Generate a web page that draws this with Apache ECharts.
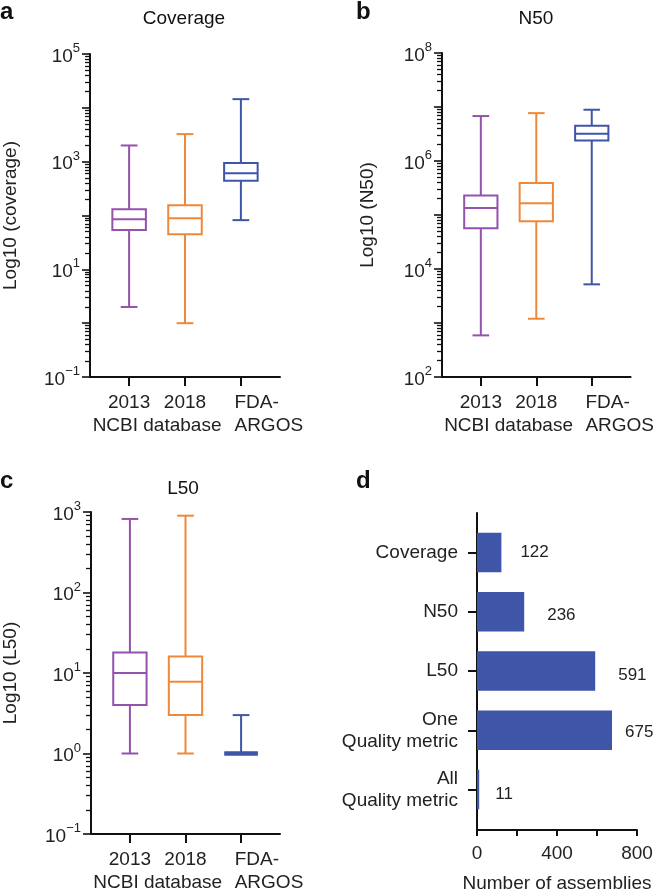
<!DOCTYPE html>
<html><head><meta charset="utf-8">
<script src="https://cdn.jsdelivr.net/npm/echarts@6/dist/echarts.min.js"></script>
<style>html,body{margin:0;padding:0;background:#fff}#c{width:657px;height:894px}</style>
</head><body><div id="c"></div>
<script>
const FONT = '"Liberation Sans", Arial, Helvetica, sans-serif';
const TXT = '#222';
const AX = '#111';

// categories
const groups = ['2013', '2018', 'FDA-\nARGOS'];
const groupSubLabel = 'NCBI database';
const boxColors = ['#9452ad', '#f0883a', '#3f55a8'];

// box stats: [min, Q1, median, Q3, max]
const coverage2013 = [2.0, 54, 85, 130, 2000];
const coverage2018 = [1.0, 45, 89, 155, 3250];
const coverageFDA  = [82, 440, 610, 940, 14500];

const n50_2013 = [590, 57000, 135000, 230000, 6800000];
const n50_2018 = [1200, 77000, 165000, 390000, 7700000];
const n50_FDA  = [5200, 2400000, 3200000, 4500000, 8900000];

const l50_2013 = [1, 4.0, 10, 18, 820];
const l50_2018 = [1, 3.0, 7.8, 16, 900];
const l50_FDA  = [1, 1, 1, 1, 3];

// tick values
const coverageDecades = [0.1, 1, 10, 100, 1000, 10000, 100000];
const coverageLabels  = [0.1, 10, 1000, 100000];
const n50Decades = [100, 1000, 10000, 100000, 1000000, 10000000, 100000000];
const n50Labels  = [100, 10000, 1000000, 100000000];
const l50Decades = [0.1, 1, 10, 100, 1000];
const l50Labels  = [0.1, 1, 10, 100, 1000];

// panel d
const barCategories = ['Coverage', 'N50', 'L50', 'One\nQuality metric', 'All\nQuality metric'];
const barValues = [122, 236, 591, 675, 11];
const barTickLabels = [0, 400, 800];
const barColor = '#3f55a8';
// value-label placement (style only, px offsets from bar end)
const barLabelDx = [19, 23, 23, 13, 16];
const barLabelDy = [0, 4, 4, 2, 5];

function minorVals(decades) {
  const out = [];
  for (let i = 0; i < decades.length - 1; i++) {
    for (let k = 2; k <= 9; k++) out.push(decades[i] * k);
  }
  return out;
}
function supFmt(v) {
  const e = Math.round(Math.log10(v));
  const s = e < 0 ? '\u2212' + (-e) : String(e);
  return '{b|10}{e|' + s + '}';
}
const supRich = {
  b: { fontSize: 19, lineHeight: 24, fontFamily: FONT, color: TXT, verticalAlign: 'bottom' },
  e: { fontSize: 13, fontFamily: FONT, color: TXT, verticalAlign: 'top' }
};

const catLabelStyle = { margin: 14, fontSize: 19, lineHeight: 23, color: TXT, fontFamily: FONT };
function boxXAxes(gi) {
  return [{
    type: 'value', gridIndex: gi, min: -0.7, max: 2.7, position: 'bottom',
    axisLine: { show: true, onZero: false, lineStyle: { color: AX, width: 2 } },
    axisTick: { show: true, customValues: [0, 1, 2], length: 9, lineStyle: { color: AX, width: 2 } },
    axisLabel: Object.assign({ customValues: [0, 1], formatter: v => groups[Math.round(v)] }, catLabelStyle),
    splitLine: { show: false }
  }, {
    type: 'value', gridIndex: gi, min: -0.7, max: 2.7, position: 'bottom',
    axisLine: { show: false, onZero: false }, axisTick: { show: false },
    axisLabel: Object.assign({ customValues: [0.5], formatter: () => '\n' + groupSubLabel }, catLabelStyle),
    splitLine: { show: false }
  }, {
    // the FDA label is left-aligned, starting just left of its tick
    type: 'value', gridIndex: gi, min: -0.7, max: 2.7, position: 'bottom',
    axisLine: { show: false, onZero: false }, axisTick: { show: false },
    axisLabel: Object.assign({ customValues: [1.885], formatter: () => groups[2], align: 'left' }, catLabelStyle),
    splitLine: { show: false }
  }];
}
function logYAxes(gi, min, max, decades, labels, name, gap) {
  return [{
    type: 'log', logBase: 10, gridIndex: gi, min: min, max: max, position: 'left',
    name: name, nameLocation: 'middle', nameGap: gap, nameRotate: 90,
    nameTextStyle: { fontSize: 19, color: TXT, fontFamily: FONT },
    axisLine: { show: true, onZero: false, lineStyle: { color: AX, width: 2 } },
    axisTick: { show: true, customValues: decades, length: 8, lineStyle: { color: AX, width: 1.6 } },
    axisLabel: { customValues: labels, formatter: supFmt, margin: 10, rich: supRich },
    splitLine: { show: false }
  }, {
    type: 'log', logBase: 10, gridIndex: gi, min: min, max: max, position: 'left',
    axisLine: { show: false, onZero: false },
    axisTick: { show: true, customValues: minorVals(decades), length: 5, lineStyle: { color: AX, width: 1.3 } },
    axisLabel: { show: false },
    splitLine: { show: false }
  }];
}

function boxRender(params, api) {
  const i = api.value(0);
  const c = boxColors[i];
  const pMin = api.coord([i, api.value(1)]);
  const pQ1 = api.coord([i, api.value(2)]);
  const pMed = api.coord([i, api.value(3)]);
  const pQ3 = api.coord([i, api.value(4)]);
  const pMax = api.coord([i, api.value(5)]);
  const bw = api.size([0.6, 1], [i, 1])[0];
  const cw = api.size([0.3, 1], [i, 1])[0];
  const x = pMed[0];
  const st = { stroke: c, lineWidth: 2, fill: 'none' };
  const collapsed = Math.abs(pQ1[1] - pQ3[1]) < 1;
  const boxSt = { stroke: c, lineWidth: collapsed ? 4 : 2, fill: 'none' };
  return { type: 'group', children: [
    { type: 'line', shape: { x1: x, y1: pMax[1], x2: x, y2: pQ3[1] }, style: st },
    { type: 'line', shape: { x1: x, y1: pQ1[1], x2: x, y2: pMin[1] }, style: st },
    { type: 'line', shape: { x1: x - cw / 2, y1: pMax[1], x2: x + cw / 2, y2: pMax[1] }, style: st },
    { type: 'line', shape: { x1: x - cw / 2, y1: pMin[1], x2: x + cw / 2, y2: pMin[1] }, style: st },
    { type: 'rect', shape: { x: x - bw / 2, y: pQ3[1], width: bw, height: pQ1[1] - pQ3[1] }, style: boxSt },
    { type: 'line', shape: { x1: x - bw / 2, y1: pMed[1], x2: x + bw / 2, y2: pMed[1] }, style: boxSt }
  ]};
}
function boxData(sets) {
  return sets.map((s, i) => [i].concat(s));
}
function boxSeries(xi, yi, sets) {
  return {
    type: 'custom', xAxisIndex: xi, yAxisIndex: yi, renderItem: boxRender,
    encode: { x: 0, y: [1, 2, 3, 4, 5] }, data: boxData(sets), silent: true
  };
}

function barRender(params, api) {
  const idx = api.value(0);
  const val = api.value(1);
  const s = api.coord([0, idx]);
  const e = api.coord([val, idx]);
  const h = api.size([1, 0.667], [0, idx])[1];
  return { type: 'group', children: [
    { type: 'rect', shape: { x: s[0], y: s[1] - h / 2, width: e[0] - s[0], height: h }, style: { fill: barColor } },
    { type: 'text', x: e[0] + barLabelDx[idx], y: e[1] + barLabelDy[idx],
      style: { text: String(val), fontSize: 17, fontFamily: FONT, fill: TXT, verticalAlign: 'middle', align: 'left' } }
  ]};
}

const chart = echarts.init(document.getElementById('c'), null, { renderer: 'canvas' });
const ts = (size, bold) => ({ fontSize: size, fontWeight: bold ? 'bold' : 'normal', fontFamily: FONT, color: '#111' });

const option = {
  animation: false,
  backgroundColor: '#fff',
  title: [
    { text: 'a', left: 0, top: 0, padding: 0, textStyle: ts(24, true) },
    { text: 'b', left: 356, top: 0, padding: 0, textStyle: ts(24, true) },
    { text: 'c', left: 0, top: 469, padding: 0, textStyle: ts(24, true) },
    { text: 'd', left: 356, top: 469, padding: 0, textStyle: ts(24, true) },
    { text: 'Coverage', left: 184, top: 9, padding: 0, textAlign: 'center', textStyle: ts(19, false) },
    { text: 'N50', left: 536, top: 9, padding: 0, textAlign: 'center', textStyle: ts(19, false) },
    { text: 'L50', left: 183, top: 479, padding: 0, textAlign: 'center', textStyle: ts(19, false) }
  ],
  grid: [
    { left: 89, top: 54, width: 191, height: 323 },
    { left: 442, top: 53, width: 190, height: 324 },
    { left: 89, top: 512, width: 191, height: 325 },
    { left: 477, top: 513, width: 160, height: 321 }
  ],
  xAxis: [
    ...boxXAxes(0), ...boxXAxes(1), ...boxXAxes(2),
    {
      type: 'value', gridIndex: 3, min: 0, max: 800, interval: 200, position: 'bottom',
      name: 'Number of assemblies', nameLocation: 'middle', nameGap: 44,
      nameTextStyle: { fontSize: 19, color: TXT, fontFamily: FONT },
      axisLine: { show: true, onZero: false, lineStyle: { color: AX, width: 2 } },
      axisTick: { show: true, length: 6, lineStyle: { color: AX, width: 2 } },
      axisLabel: { customValues: barTickLabels, margin: 14, fontSize: 19, color: TXT, fontFamily: FONT },
      splitLine: { show: false }
    }
  ],
  yAxis: [
    ...logYAxes(0, 0.1, 100000, coverageDecades, coverageLabels, 'Log10 (coverage)', 70),
    ...logYAxes(1, 100, 100000000, n50Decades, n50Labels, 'Log10 (N50)', 65),
    ...logYAxes(2, 0.1, 1000, l50Decades, l50Labels, 'Log10 (L50)', 71),
    {
      type: 'value', gridIndex: 3, min: -0.667, max: 4.683, inverse: true, position: 'left',
      axisLine: { show: true, onZero: false, lineStyle: { color: AX, width: 2 } },
      axisTick: { show: true, customValues: [0, 1, 2, 3, 4], length: 9, lineStyle: { color: AX, width: 2 } },
      axisLabel: {
        customValues: [0, 1, 2, 3, 4], formatter: v => barCategories[Math.round(v)],
        margin: 19, fontSize: 19, lineHeight: 22, align: 'right', color: TXT, fontFamily: FONT
      },
      splitLine: { show: false }
    }
  ],
  series: [
    boxSeries(0, 0, [coverage2013, coverage2018, coverageFDA]),
    boxSeries(3, 2, [n50_2013, n50_2018, n50_FDA]),
    boxSeries(6, 4, [l50_2013, l50_2018, l50_FDA]),
    {
      type: 'custom', xAxisIndex: 9, yAxisIndex: 6, renderItem: barRender,
      encode: { x: 1, y: 0 }, data: barValues.map((v, i) => [i, v]), silent: true
    }
  ]
};
chart.setOption(option);
</script>
</body></html>
